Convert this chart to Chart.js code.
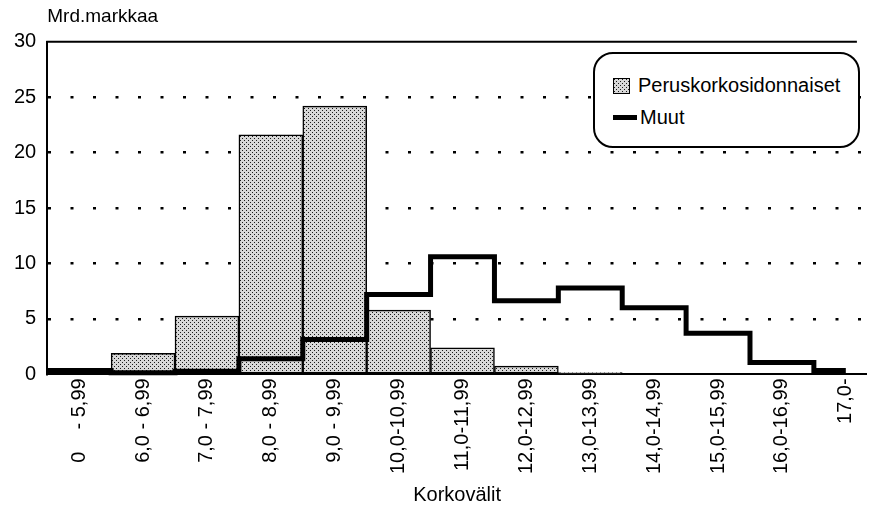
<!DOCTYPE html>
<html>
<head>
<meta charset="utf-8">
<script src="https://cdn.jsdelivr.net/npm/chart.js@4/dist/chart.umd.min.js"></script>
<style>
  body { margin: 0; background: #fff; }
  #wrap { position: relative; width: 874px; height: 510px; }
  #legend {
    position: absolute; left: 593px; top: 52px; width: 263px; height: 92px;
    border: 2.5px solid #000; border-radius: 20px; background: #fff;
    font-family: "Liberation Sans", Arial, sans-serif; font-size: 20px; color: #000;
  }
  .item { position: absolute; left: 18px; display: flex; align-items: center; }
  .swatch { width: 17px; height: 16px; border: 1.5px solid #000; box-sizing: border-box; margin-right: 8px; }
  .bar { width: 24px; height: 5px; background: #000; margin-right: 3px; }
</style>
</head>
<body>
<div id="wrap">
  <canvas id="chart" width="874" height="510"></canvas>
  <div id="legend"></div>
</div>
<script>
// interest-rate bins (x axis)
const labels = ['0    - 5,99', '6,0 - 6,99', '7,0 - 7,99', '8,0 - 8,99', '9,0 - 9,99',
  '10,0-10,99', '11,0-11,99', '12,0-12,99', '13,0-13,99', '14,0-14,99',
  '15,0-15,99', '16,0-16,99', '17,0-'];

// billions of marks
const peruskorko = [0.5, 1.9, 5.25, 21.6, 24.2, 5.8, 2.4, 0.75, 0.15, 0, 0, 0, 0];
const muut = [0.35, 0.15, 0.27, 1.4, 3.15, 7.2, 10.6, 6.65, 7.8, 6.0, 3.7, 1.08, 0.35];

const yTicks = [0, 5, 10, 15, 20, 25, 30];

// dotted grey fill like the printed raster
function stipple() {
  const c = document.createElement('canvas');
  c.width = 4; c.height = 4;
  const g = c.getContext('2d');
  g.fillStyle = '#d8d8d8';
  g.fillRect(0, 0, 4, 4);
  g.fillStyle = '#1a1a1a';
  g.fillRect(0, 0, 1, 1);
  g.fillRect(2, 2, 1, 1);
  return c;
}
const tile = stipple();
const pattern = document.getElementById('chart').getContext('2d').createPattern(tile, 'repeat');

// step outline: each bin runs from i-0.5 to i+0.5, the open last bin to its centre
const muutSteps = [];
muut.forEach((v, i) => {
  muutSteps.push({ x: i - 0.5, y: v });
  muutSteps.push({ x: i === muut.length - 1 ? i : i + 0.5, y: v });
});

const topBorder = {
  id: 'topBorder',
  afterDatasetsDraw(chart) {
    const { ctx, chartArea } = chart;
    ctx.save();
    ctx.strokeStyle = '#000';
    ctx.lineWidth = 2;
    ctx.beginPath();
    ctx.moveTo(chartArea.left - 1, chartArea.top);
    ctx.lineTo(chartArea.right - 10, chartArea.top);
    ctx.stroke();
    ctx.restore();
  }
};

const font = 'Liberation Sans, Arial, sans-serif';

const chart = new Chart(document.getElementById('chart'), {
  data: {
    datasets: [
      {
        type: 'line',
        label: 'Muut',
        data: muutSteps,
        borderColor: '#000',
        borderWidth: 5,
        borderJoinStyle: 'miter',
        pointRadius: 0,
        fill: false,
        clip: 8,
        order: 0
      },
      {
        type: 'bar',
        label: 'Peruskorkosidonnaiset',
        data: peruskorko.map((v, i) => ({ x: i, y: v })),
        backgroundColor: pattern,
        borderColor: '#000',
        borderWidth: 1.5,
        borderSkipped: false,
        barPercentage: 1,
        categoryPercentage: 1,
        order: 1
      }
    ]
  },
  options: {
    responsive: false,
    devicePixelRatio: 1,
    animation: false,
    layout: { padding: { left: 3, right: 2, top: 5, bottom: 0 } },
    plugins: {
      legend: { display: false },
      tooltip: { enabled: false },
      title: {
        display: true,
        text: 'Mrd.markkaa',
        align: 'start',
        fullSize: false,
        color: '#000',
        font: { family: font, size: 19, weight: 'normal' },
        padding: { top: 0, bottom: 14 }
      }
    },
    scales: {
      x: {
        type: 'linear',
        offset: false,
        min: -0.5,
        max: 12.33,
        afterBuildTicks: (scale) => { scale.ticks = labels.map((_, i) => ({ value: i })); },
        ticks: {
          autoSkip: false,
          minRotation: 90,
          maxRotation: 90,
          padding: 4,
          color: '#000',
          font: { family: font, size: 20 },
          callback: (v) => labels[v]
        },
        grid: { display: false, drawTicks: false, offset: false },
        border: { display: true, color: '#000', width: 2 },
        title: {
          display: true,
          text: 'Korkovälit',
          color: '#000',
          font: { family: font, size: 20 },
          padding: { top: 5, bottom: 3 }
        }
      },
      y: {
        min: 0,
        max: 30,
        afterBuildTicks: (scale) => { scale.ticks = yTicks.map(v => ({ value: v })); },
        ticks: {
          padding: 11,
          color: '#000',
          font: { family: font, size: 20 }
        },
        grid: {
          drawTicks: false,
          lineWidth: 2.5,
          color: (ctx) => (ctx.tick && (ctx.tick.value === 0 || ctx.tick.value === 30)) ? 'rgba(0,0,0,0)' : '#000'
        },
        border: { display: true, color: '#000', width: 2, dash: [3, 19.5] }
      }
    }
  },
  plugins: [topBorder]
});

// legend box built from the datasets
const legend = document.getElementById('legend');
const barSet = chart.data.datasets[1];
const lineSet = chart.data.datasets[0];
legend.innerHTML =
  '<div class="item" style="top:20px"><span class="swatch" style="background-image:url(' + tile.toDataURL() + ')"></span>' + barSet.label + '</div>' +
  '<div class="item" style="top:52px"><span class="bar"></span>' + lineSet.label + '</div>';
</script>
</body>
</html>
